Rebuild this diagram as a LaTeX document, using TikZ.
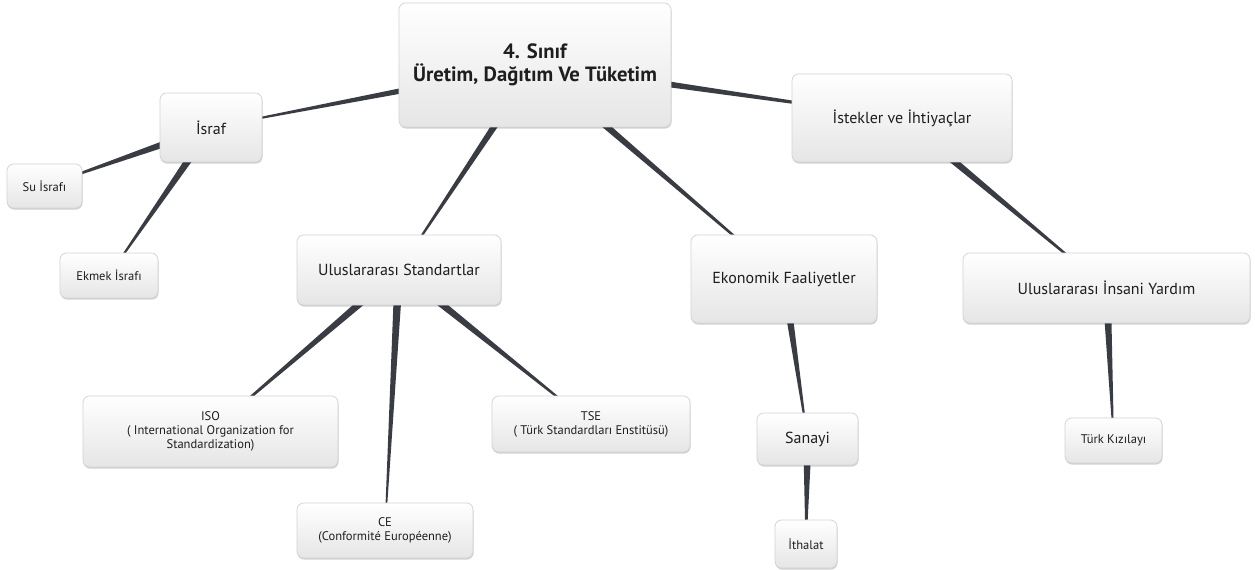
\documentclass[tikz,border=0pt]{standalone}
\usepackage{fontspec}
\setmainfont{PT Sans}
\usetikzlibrary{calc}
\usetikzlibrary{shadows}
\usetikzlibrary{backgrounds}
\definecolor{linkgray}{RGB}{58,60,68}
\definecolor{boxline}{RGB}{212,212,212}
\definecolor{boxtext}{RGB}{30,30,30}
\tikzset{%
    topic/.style={draw=boxline, line width=0.6pt, rounded corners=5pt, top color=white, middle color=white, bottom color=black!10, align=center, text=boxtext, inner sep=2pt, drop shadow={shadow xshift=0.4pt, shadow yshift=-1.2pt, opacity=0.18, fill=black}},%
    sz/.style 2 args={minimum width=#1*0.75pt, minimum height=#2*0.75pt},%
    big/.style={font=\fontsize{15.5}{17.5}\selectfont\bfseries},%
    mid/.style={font=\fontsize{12}{14}\selectfont},%
    small/.style={font=\fontsize{9.4}{10.4}\selectfont},%
    link/.style={fill=linkgray},%
}
\newcommand\branch[2]{\fill[link] ($(#1.center)!3.2pt!90:(#2.center)$) -- ($(#2.center)!0.35pt!-90:(#1.center)$) -- ($(#2.center)!0.35pt!90:(#1.center)$) -- ($(#1.center)!3.2pt!-90:(#2.center)$) -- cycle;}

\begin{document}
\begin{tikzpicture}[x=0.75pt,y=0.75pt,yscale=-1,xscale=1]
\useasboundingbox (0,0) rectangle (1255,570);

%Node: root
\node [topic, big, sz={272}{124}] (sinif) at (535,65) {4. Sınıf\\Üretim, Dağıtım Ve Tüketim};
%Node: left branch
\node [topic, mid, sz={102}{69}] (israf) at (211,127.5) {İsraf};
\node [topic, small, sz={75}{44}] (suisraf) at (44.5,186) {Su İsrafı};
\node [topic, small, sz={98}{45}] (ekmek) at (109,275.5) {Ekmek İsrafı};
%Node: standards branch
\node [topic, mid, sz={204}{70}] (standart) at (399,270) {Uluslararası Standartlar};
\node [topic, small, sz={255}{71}] (iso) at (210.5,431.5) {ISO\\( International Organization for\\Standardization)};
\node [topic, small, sz={176}{55}] (ce) at (385,530.5) {CE\\(Conformité Européenne)};
\node [topic, small, sz={198}{56}] (tse) at (591,424) {TSE\\( Türk Standardları Enstitüsü)};
%Node: economy branch
\node [topic, mid, sz={186}{88}] (ekonomi) at (784,279) {Ekonomik Faaliyetler};
\node [topic, mid, sz={101}{52}] (sanayi) at (807.5,439) {Sanayi};
\node [topic, small, sz={62}{48}] (ithalat) at (806,544) {İthalat};
%Node: right branch
\node [topic, mid, sz={220}{88}] (istek) at (902,118) {İstekler ve İhtiyaçlar};
\node [topic, mid, sz={287}{70}] (yardim) at (1106.5,288) {Uluslararası İnsani Yardım};
\node [topic, small, sz={97}{45}] (kizilay) at (1113.5,440.5) {Türk Kızılayı};

%Tapered links behind the boxes
\begin{scope}[on background layer]
\fill [white] (0,0) rectangle (1255,570);
\branch{sinif}{israf}
\branch{israf}{suisraf}
\branch{israf}{ekmek}
\branch{sinif}{standart}
\branch{standart}{iso}
\branch{standart}{ce}
\branch{standart}{tse}
\branch{sinif}{ekonomi}
\branch{ekonomi}{sanayi}
\branch{sanayi}{ithalat}
\branch{sinif}{istek}
\branch{istek}{yardim}
\branch{yardim}{kizilay}
\end{scope}

\end{tikzpicture}
\end{document}
